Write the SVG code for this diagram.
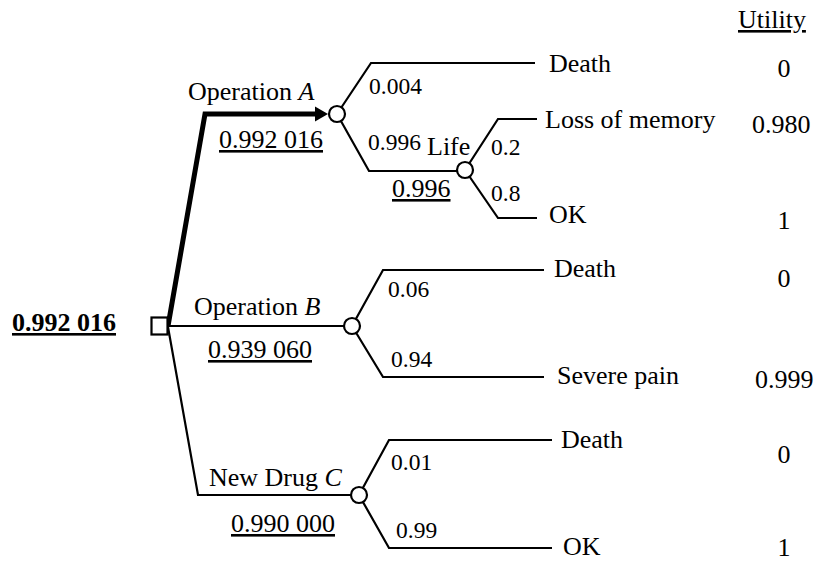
<svg xmlns="http://www.w3.org/2000/svg" width="818" height="562" viewBox="0 0 818 562">
<defs>
<style>
.t{font-family:"Liberation Serif","Times New Roman",serif;font-size:26px;fill:#000}
.p{font-family:"Liberation Serif","Times New Roman",serif;font-size:23.5px;fill:#000}
.u{text-decoration:underline}
.b{font-weight:bold}
.ln{fill:none;stroke:#000;stroke-width:2.2;stroke-linejoin:miter}
.thick{fill:none;stroke:#000;stroke-width:5;stroke-linejoin:miter}
.ch{fill:#fff;stroke:#000;stroke-width:2.2}
</style>
</defs>
<rect width="818" height="562" fill="#fff"/>
<g id="connectors">
<path class="thick" d="M168,326 L205,114 L318,114"/>
<polygon points="315,106.5 328,114 315,121.5" fill="#000"/>
<path class="ln" d="M168,326 L352,326"/>
<path class="ln" d="M168,327 L198,495 L359,495"/>
<path class="ln" d="M337,114 L371,63 L535,63"/>
<path class="ln" d="M337,114 L369,171 L465,171"/>
<path class="ln" d="M465,170 L498,119 L537,119"/>
<path class="ln" d="M465,170 L498,218 L537,218"/>
<path class="ln" d="M352,326 L383,270 L544,270"/>
<path class="ln" d="M352,326 L383,377 L544,377"/>
<path class="ln" d="M359,495 L389,440 L552,440"/>
<path class="ln" d="M359,495 L389,548 L552,548"/>
</g>
<g id="decision">
<rect x="151.5" y="317.5" width="16" height="17" fill="#fff" stroke="#000" stroke-width="2.2"/>
<text class="t b u" x="12" y="331">0.992 016</text>
</g>
<g id="operationA">
<text class="t" x="188" y="100">Operation <tspan font-style="italic">A</tspan></text>
<text class="t u" x="219" y="148">0.992 016</text>
<circle class="ch" cx="337" cy="114" r="8"/>
<text class="p" x="369" y="94">0.004</text>
<text class="p" x="368" y="150">0.996</text>
</g>
<g id="life">
<text class="t" x="427" y="155">Life</text>
<text class="t u" x="392" y="197">0.996</text>
<circle class="ch" cx="465" cy="170" r="8"/>
<text class="p" x="491" y="155">0.2</text>
<text class="p" x="491" y="201">0.8</text>
</g>
<g id="operationB">
<text class="t" x="194" y="315">Operation <tspan font-style="italic">B</tspan></text>
<text class="t u" x="208" y="358">0.939 060</text>
<circle class="ch" cx="352" cy="326" r="8"/>
<text class="p" x="388" y="297">0.06</text>
<text class="p" x="391" y="367">0.94</text>
</g>
<g id="drugC">
<text class="t" x="209" y="486">New Drug <tspan font-style="italic">C</tspan></text>
<text class="t u" x="231" y="532">0.990 000</text>
<circle class="ch" cx="359" cy="495" r="8"/>
<text class="p" x="391" y="470">0.01</text>
<text class="p" x="396" y="538">0.99</text>
</g>
<g id="outcomeA-death"><text class="t" x="549" y="72">Death</text></g>
<g id="outcomeA-memory"><text class="t" x="545" y="128">Loss of memory</text></g>
<g id="outcomeA-ok"><text class="t" x="549" y="223">OK</text></g>
<g id="outcomeB-death"><text class="t" x="554" y="277">Death</text></g>
<g id="outcomeB-pain"><text class="t" x="557" y="384">Severe pain</text></g>
<g id="outcomeC-death"><text class="t" x="561" y="448">Death</text></g>
<g id="outcomeC-ok"><text class="t" x="563" y="555">OK</text></g>
<g id="utility">
<text class="t u" x="738" y="28">Utility</text>
<text class="t" x="784" y="77" text-anchor="middle">0</text>
<text class="t" x="752" y="133">0.980</text>
<text class="t" x="784" y="229" text-anchor="middle">1</text>
<text class="t" x="784" y="287" text-anchor="middle">0</text>
<text class="t" x="755" y="388">0.999</text>
<text class="t" x="784" y="463" text-anchor="middle">0</text>
<text class="t" x="784" y="556" text-anchor="middle">1</text>
</g>
</svg>
